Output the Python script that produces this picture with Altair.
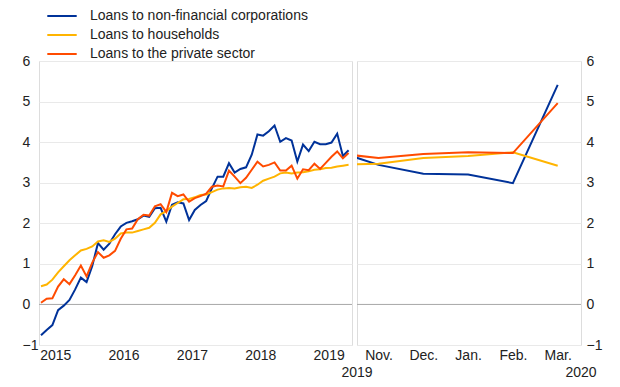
import json
import altair as alt
import pandas as pd

# ---------------- data ----------------
series_names = [
    "Loans to non-financial corporations",
    "Loans to households",
    "Loans to the private sector",
]
series_colors = ["#003299", "#ffb400", "#ff4b00"]

# left panel: monthly, April 2015 - October 2019
left_months = [d.strftime("%Y-%m") for d in pd.date_range("2015-04-01", periods=55, freq="MS")]
nfc_left = [-0.76, -0.63, -0.51, -0.14, -0.03, 0.11, 0.37, 0.66, 0.55, 0.95,
            1.51, 1.35, 1.50, 1.73, 1.92, 2.01, 2.05, 2.10, 2.19, 2.16,
            2.37, 2.38, 2.04, 2.46, 2.52, 2.49, 2.08, 2.33, 2.45, 2.55,
            2.86, 3.15, 3.15, 3.48, 3.25, 3.34, 3.38, 3.69, 4.19, 4.16,
            4.27, 4.41, 4.01, 4.10, 4.04, 3.52, 3.94, 3.78, 4.01, 3.95,
            3.95, 3.99, 4.21, 3.66, 3.80]
hh_left = [0.45, 0.49, 0.61, 0.79, 0.94, 1.09, 1.21, 1.33, 1.37, 1.43,
           1.55, 1.58, 1.54, 1.62, 1.75, 1.77, 1.77, 1.81, 1.85, 1.89,
           2.01, 2.22, 2.30, 2.41, 2.50, 2.59, 2.60, 2.64, 2.70, 2.71,
           2.77, 2.83, 2.86, 2.87, 2.86, 2.89, 2.90, 2.87, 2.95, 3.05,
           3.10, 3.15, 3.23, 3.25, 3.23, 3.25, 3.26, 3.28, 3.32, 3.33,
           3.36, 3.37, 3.40, 3.42, 3.44]
ps_left = [0.04, 0.14, 0.15, 0.44, 0.62, 0.50, 0.72, 0.96, 0.69, 1.03,
           1.29, 1.15, 1.21, 1.32, 1.62, 1.85, 1.87, 2.10, 2.21, 2.19,
           2.42, 2.47, 2.28, 2.75, 2.67, 2.71, 2.53, 2.62, 2.67, 2.73,
           2.90, 2.93, 2.91, 3.30, 3.15, 2.99, 3.12, 3.32, 3.52, 3.40,
           3.44, 3.50, 3.30, 3.30, 3.42, 3.10, 3.33, 3.31, 3.47, 3.34,
           3.49, 3.64, 3.77, 3.60, 3.73]
year_labels = ["2015", "2016", "2017", "2018", "2019"]

# right panel: October 2019 - March 2020
right_months = ["2019-10", "2019-11", "2019-12", "2020-01", "2020-02", "2020-03"]
nfc_right = [3.80, 3.44, 3.22, 3.20, 2.99, 5.41]
hh_right = [3.44, 3.47, 3.61, 3.66, 3.75, 3.42]
ps_right = [3.73, 3.61, 3.71, 3.75, 3.73, 4.96]
month_labels = ["Oct.", "Nov.", "Dec.", "Jan.", "Feb.", "Mar."]
right_year_labels = ["2019", "2020"]

# ---------------- tables ----------------
def month_index(s, y0, m0):
    y, m = int(s[:4]), int(s[5:7])
    return (y - y0) * 12 + (m - m0)

rows = []
for name, vals in zip(series_names, [nfc_left, hh_left, ps_left]):
    for mth, v in zip(left_months, vals):
        rows.append({"t": month_index(mth, 2015, 1), "value": v, "series": name})
left_df = pd.DataFrame(rows)

rows = []
for name, vals in zip(series_names, [nfc_right, hh_right, ps_right]):
    for mth, v in zip(right_months, vals):
        rows.append({"t": month_index(mth, 2019, 10), "value": v, "series": name})
right_df = pd.DataFrame(rows)

FONT = "Liberation Sans"
TXT = "#222222"
W_L, W_R, H = 313, 224, 284

y_scale = alt.Scale(domain=[-1, 6], nice=False, zero=False)
legend = alt.Legend(
    orient="none", legendX=15, legendY=-53, title=None,
    symbolType="M-2.1,0H2.1", symbolStrokeWidth=2, symbolSize=196,
    labelFontSize=14, labelFont=FONT, labelColor=TXT, labelOffset=20, labelLimit=0,
    rowPadding=4, padding=0, direction="vertical",
)
color = alt.Color("series:N", scale=alt.Scale(domain=series_names, range=series_colors), legend=legend)
zero_df = pd.DataFrame({"y": [0]})

# ---------------- left panel ----------------
year_pos = [5.5 + 12 * k for k in range(len(year_labels))]
xl = alt.X("t:Q", scale=alt.Scale(domain=[2.65, 57.6], nice=False, zero=False),
           axis=alt.Axis(values=year_pos, labelExpr=f"{json.dumps(year_labels)}[floor(datum.value / 12)]",
                         title=None, grid=False, ticks=False, domain=False, labelPadding=3))
yl = alt.Y("value:Q", scale=y_scale,
           axis=alt.Axis(values=list(range(-1, 7)), title=None, grid=True, gridColor="#e9e9e9",
                         ticks=False, domain=False, labelAlign="left", labelPadding=17, labelBaseline="middle"))
left_zero = alt.Chart(zero_df).mark_rule(color="#a8a8a8", strokeWidth=1).encode(y=alt.Y("y:Q", scale=y_scale))
left_lines = alt.Chart(left_df).mark_line(strokeWidth=2, clip=True).encode(x=xl, y=yl, color=color)
left = alt.layer(left_zero, left_lines).properties(width=W_L, height=H)

# ---------------- right panel ----------------
xr_scale = alt.Scale(domain=[0.52, 5.52], nice=False, zero=False)
xr = alt.X("t:Q", scale=xr_scale,
           axis=alt.Axis(values=[1, 2, 3, 4, 5], labelExpr=f"{json.dumps(month_labels)}[datum.value]",
                         title=None, grid=False, ticks=False, domain=False, labelPadding=3))
yr = alt.Y("value:Q", scale=y_scale,
           axis=alt.Axis(values=list(range(-1, 7)), orient="right", title=None, grid=True, gridColor="#e9e9e9",
                         ticks=False, domain=False, labelAlign="left", labelPadding=5, labelBaseline="middle"))
right_zero = alt.Chart(zero_df).mark_rule(color="#a8a8a8", strokeWidth=1).encode(y=alt.Y("y:Q", scale=y_scale))
right_lines = alt.Chart(right_df).mark_line(strokeWidth=2, clip=True).encode(x=xr, y=yr, color=color)
yr_df = pd.DataFrame({"t": [0.52, 5.52], "label": right_year_labels})
right_years = alt.Chart(yr_df).mark_text(fontSize=14, font=FONT, color=TXT, baseline="middle", align="center").encode(
    x=alt.X("t:Q", scale=xr_scale), y=alt.value(H + 28), text="label:N")
right = alt.layer(right_zero, right_lines, right_years).properties(width=W_R, height=H)

chart = alt.hconcat(left, right, spacing=5, bounds="flush").properties(
    padding={"left": 13, "top": 0, "right": 0, "bottom": 0}
).configure_view(stroke="#dddddd", strokeWidth=1).configure_axis(
    labelFont=FONT, labelFontSize=14, labelColor=TXT
)

chart.save("out.html", embed_options={"renderer": "svg", "actions": False})
